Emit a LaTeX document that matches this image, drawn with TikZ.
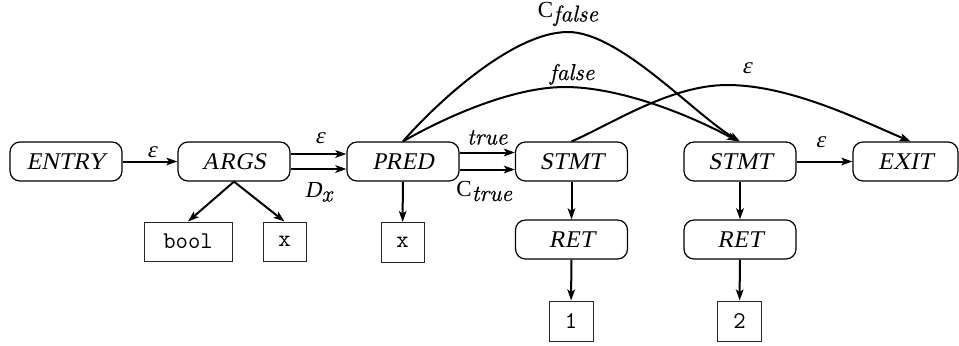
\documentclass[tikz,border=0pt]{standalone}
\usepackage{fontspec}
\newfontfamily\tms{Liberation Serif}
\newfontfamily\tmsi{Liberation Serif}[FakeSlant=0.2]
\newfontfamily\lmi{lmroman10-italic.otf}[FakeBold=0.4]
\usetikzlibrary{arrows.meta}
\begin{document}
\begin{tikzpicture}[x=0.5pt,y=-0.5pt,
  blk/.style={draw, line width=0.6pt, rounded corners=5pt, minimum width=56pt, minimum height=19.5pt, inner sep=0pt, font=\fontsize{12}{14}\selectfont\tmsi},
  val/.style={draw=black!85, line width=0.5pt, minimum height=19.5pt, inner sep=0pt, font=\fontsize{12}{14}\selectfont\ttfamily},
  arr/.style={line width=1pt, -{Stealth[length=5.5pt,width=3.8pt,inset=1.3pt]}},
  lbl/.style={font=\fontsize{11.5}{14}\selectfont\lmi, inner sep=0pt, anchor=base},
  eps/.style={font=\fontsize{11.5}{14}\selectfont\tmsi, inner sep=0pt, anchor=base}]
\useasboundingbox (0,0) rectangle (959,345);
% main row
\node[blk] (entry) at (66,161.5) {ENTRY};
\node[blk] (args)  at (234,161.5) {ARGS};
\node[blk] (pred)  at (403,161.5) {PRED};
\node[blk] (stmt1) at (571.5,161.5) {STMT};
\node[blk] (stmt2) at (740,161.5) {STMT};
\node[blk, minimum width=52.5pt] (exit) at (905.5,161.5) {EXIT};
\node[blk] (ret1) at (571.5,239.5) {RET};
\node[blk] (ret2) at (740,239.5) {RET};
% value boxes
\node[val, minimum width=44pt] (bool) at (188,241.5) {bool};
\node[val, minimum width=21.5pt] (xa) at (284.5,241.5) {x};
\node[val, minimum width=21.5pt, minimum height=20pt] (xp) at (402.5,242.5) {x};
\node[val, minimum width=22pt, minimum height=20pt] (one) at (571,321) {1};
\node[val, minimum width=22pt, minimum height=20pt] (two) at (739.5,321) {2};
% straight edges
\draw[arr] (entry) -- node[eps, yshift=2.25pt, xshift=1pt] {ε} (args);
\draw[arr] ([yshift=3.75pt]args.east) -- node[eps, yshift=5.5pt, xshift=0.75pt] {ε} ([yshift=3.75pt]pred.west);
\draw[arr] ([yshift=-3.75pt]args.east) -- node[lbl, yshift=-14pt] {{\tmsi D}\raisebox{-0.45ex}{x}} ([yshift=-3.75pt]pred.west);
\draw[arr] ([yshift=4.5pt]pred.east) -- node[lbl, yshift=4pt] {true} ([yshift=4.5pt]stmt1.west);
\draw[arr] ([yshift=-4pt]pred.east) -- node[lbl, yshift=-13.5pt, xshift=-1.5pt] {{\tms C}\raisebox{-0.45ex}{true}} ([yshift=-4pt]stmt1.west);
\draw[arr] (stmt2) -- node[eps, yshift=7pt, xshift=-2pt] {ε} (exit);
\draw[arr] (args.south) -- (bool.north);
\draw[arr] (args.south) -- (xa.north);
\draw[arr] (pred) -- (xp);
\draw[arr] (stmt1) -- (ret1);
\draw[arr] (stmt2) -- (ret2);
\draw[arr] (ret1) -- (one);
\draw[arr] (ret2) -- (two);
% curved edges
\draw[arr] (pred.north) .. controls (430,110) and (510,32) .. (568,32)
  node[lbl, yshift=7.5pt] {{\tms C}\raisebox{-0.45ex}{false}}
  .. controls (620,32) and (695,115) .. (stmt2.north);
\draw[arr] (pred.north) .. controls (440,120) and (510,87) .. (565,87)
  node[lbl, yshift=3.5pt, xshift=3.5pt] {false}
  .. controls (620,87) and (690,115) .. ([xshift=-1pt]stmt2.north);
\draw[arr] (stmt1.north) .. controls (610,125) and (670,85) .. (727,85)
  node[eps, yshift=6pt, xshift=10pt] {ε}
  .. controls (790,85) and (860,120) .. ([xshift=2.5pt]exit.north);
\end{tikzpicture}
\end{document}
